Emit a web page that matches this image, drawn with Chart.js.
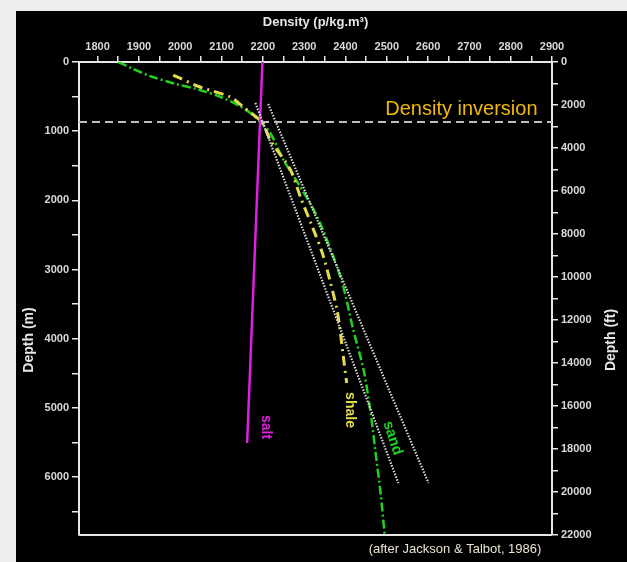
<!DOCTYPE html>
<html>
<head>
<meta charset="utf-8">
<script src="https://cdn.jsdelivr.net/npm/chart.js@4.4.0/dist/chart.umd.min.js"></script>
<style>
  html, body { margin: 0; padding: 0; background: #eeeeee; }
  #wrap { width: 627px; height: 562px; position: relative; }
</style>
</head>
<body>
<div id="wrap"><canvas id="densityChart"></canvas></div>
<script>
// values: density (kg/m3) against depth (m)
const sandDensity = [1850, 1886, 1930, 1985, 2045, 2100, 2145, 2175, 2194, 2218, 2250, 2291, 2332, 2371, 2395, 2419, 2444, 2461, 2473, 2485, 2495];
const sandDepth   = [0, 100, 210, 310, 400, 510, 640, 760, 867, 1026, 1416, 1806, 2240, 2818, 3251, 3873, 4451, 5072, 5650, 6228, 6835];

const shaleDensity = [1983, 2048, 2121, 2153, 2187, 2199, 2218, 2267, 2291, 2320, 2344, 2364, 2381, 2395, 2403];
const shaleDepth   = [188, 361, 506, 650, 809, 867, 1127, 1561, 1951, 2384, 2760, 3194, 3627, 4263, 4639];

const saltDensity = [2199, 2162];
const saltDepth   = [0, 5506];

const trendADensity = [2182, 2528];
const trendADepth   = [592, 6084];
const trendBDensity = [2213, 2601];
const trendBDepth   = [607, 6084];

const inversionDepth = 867;
const densityRange = [1755, 2900];
const depthRangeM = [0, 6835];
const depthRangeFt = [0, 22000];

// tick marks every 500 m, labels every 1000 m
const depthTicksM = [0, 500, 1000, 1500, 2000, 2500, 3000, 3500, 4000, 4500, 5000, 5500, 6000, 6500];

function toPoints(xs, ys) {
  return xs.map((x, i) => ({ x: x, y: ys[i] }));
}

// label only every n-th unit, keep the minor tick marks empty
function everyNth(n) {
  return function (value) {
    const v = Math.round(Number(value));
    return v % n === 0 ? String(v) : '';
  };
}

const FONT = 'Liberation Sans, Arial, sans-serif';
const tickFont = { family: FONT, size: 11, weight: 'bold' };

const textPlugin = {
  id: 'textPlugin',
  beforeDraw(chart) {
    const ctx = chart.ctx;
    ctx.save();
    ctx.fillStyle = '#eeeeee';
    ctx.fillRect(0, 0, chart.width, chart.height);
    ctx.fillStyle = '#000000';
    ctx.fillRect(16, 11, chart.width - 16, chart.height - 11);
    ctx.restore();
  },
  afterDraw(chart) {
    const ctx = chart.ctx;
    const area = chart.chartArea;
    const xs = chart.scales.x;
    const ys = chart.scales.y;
    ctx.save();

    // bottom frame line
    ctx.strokeStyle = '#e6e6e6';
    ctx.lineWidth = 2;
    ctx.beginPath();
    ctx.moveTo(area.left, area.bottom);
    ctx.lineTo(area.right, area.bottom);
    ctx.stroke();

    ctx.fillStyle = '#e6e6e6';
    ctx.textAlign = 'center';
    ctx.textBaseline = 'middle';
    ctx.font = 'bold 13px ' + FONT;
    ctx.fillText('Density (p/kg.m\u00b3)', (area.left + area.right) / 2, 22);

    ctx.font = 'bold 14px ' + FONT;
    ctx.save();
    ctx.translate(29, 340);
    ctx.rotate(-Math.PI / 2);
    ctx.fillText('Depth (m)', 0, 0);
    ctx.restore();
    ctx.save();
    ctx.translate(611, 340);
    ctx.rotate(-Math.PI / 2);
    ctx.fillText('Depth (ft)', 0, 0);
    ctx.restore();

    // annotations
    ctx.font = '20px ' + FONT;
    ctx.fillStyle = '#f2b705';
    ctx.textAlign = 'right';
    ctx.textBaseline = 'alphabetic';
    ctx.fillText('Density inversion', xs.getPixelForValue(2865), ys.getPixelForValue(766));

    const rotLabel = (txt, d, m, color, size, angle) => {
      ctx.save();
      ctx.translate(xs.getPixelForValue(d), ys.getPixelForValue(m));
      ctx.rotate(angle);
      ctx.font = 'bold ' + size + 'px ' + FONT;
      ctx.fillStyle = color;
      ctx.textAlign = 'center';
      ctx.textBaseline = 'middle';
      ctx.fillText(txt, 0, 0);
      ctx.restore();
    };
    rotLabel('salt', 2208, 5275, '#e020e0', 14, Math.PI / 2);
    rotLabel('shale', 2410, 5029, '#e4dc50', 14, Math.PI / 2);
    rotLabel('sand', 2514, 5434, '#22d022', 15, Math.PI * 0.4);

    ctx.font = '13px ' + FONT;
    ctx.fillStyle = '#e8e4d0';
    ctx.textAlign = 'center';
    ctx.textBaseline = 'middle';
    ctx.fillText('(after Jackson & Talbot, 1986)', 455, 549);
    ctx.restore();
  }
};

const ctx = document.getElementById('densityChart').getContext('2d');
const chart = new Chart(ctx, {
  type: 'scatter',
  data: {
    datasets: [
      {
        label: 'inversion',
        data: [{ x: densityRange[0], y: inversionDepth }, { x: densityRange[1], y: inversionDepth }],
        showLine: true, borderColor: '#bdbdbd', borderWidth: 2, borderDash: [8, 5], pointRadius: 0
      },
      {
        label: 'trend A',
        data: toPoints(trendADensity, trendADepth),
        showLine: true, borderColor: '#dadada', borderWidth: 2.2, borderDash: [1.5, 1.5], pointRadius: 0
      },
      {
        label: 'trend B',
        data: toPoints(trendBDensity, trendBDepth),
        showLine: true, borderColor: '#dadada', borderWidth: 2.2, borderDash: [1.5, 1.5], pointRadius: 0
      },
      {
        label: 'salt',
        data: toPoints(saltDensity, saltDepth),
        showLine: true, borderColor: '#e020e0', borderWidth: 2.5, pointRadius: 0
      },
      {
        label: 'shale',
        data: toPoints(shaleDensity, shaleDepth),
        showLine: true, borderColor: '#e4dc50', borderWidth: 3, borderDash: [10, 5, 2, 5], pointRadius: 0, tension: 0.3
      },
      {
        label: 'sand',
        data: toPoints(sandDensity, sandDepth),
        showLine: true, borderColor: '#22d022', borderWidth: 2.5, borderDash: [9, 3, 2, 3], pointRadius: 0, tension: 0.3
      }
    ]
  },
  options: {
    responsive: true,
    maintainAspectRatio: false,
    animation: false,
    layout: { padding: { left: 16, top: 11, right: 0, bottom: 27 } },
    plugins: {
      legend: { display: false },
      tooltip: { enabled: false }
    },
    scales: {
      x: {
        type: 'linear',
        position: 'top',
        min: densityRange[0],
        max: densityRange[1],
        afterFit: (s) => { s.height = 51; },
        border: { color: '#e6e6e6', width: 2 },
        grid: { drawOnChartArea: false, color: '#e6e6e6', lineWidth: 1.5, tickLength: 6 },
        ticks: {
          stepSize: 50, includeBounds: false, autoSkip: false, maxRotation: 0,
          color: '#d8d8d8', font: tickFont, padding: 2,
          callback: everyNth(100)
        }
      },
      y: {
        type: 'linear',
        position: 'left',
        reverse: true,
        min: depthRangeM[0],
        max: depthRangeM[1],
        afterBuildTicks: (s) => { s.ticks = depthTicksM.map((v) => ({ value: v })); },
        afterFit: (s) => { s.width = 63; },
        border: { color: '#e6e6e6', width: 2 },
        grid: { drawOnChartArea: false, color: '#e6e6e6', lineWidth: 1.5, tickLength: 7 },
        ticks: {
          autoSkip: false,
          color: '#d8d8d8', font: tickFont, padding: 3,
          callback: everyNth(1000)
        }
      },
      y2: {
        type: 'linear',
        position: 'right',
        reverse: true,
        min: depthRangeFt[0],
        max: depthRangeFt[1],
        afterFit: (s) => { s.width = 75; },
        border: { color: '#e6e6e6', width: 2 },
        grid: { drawOnChartArea: false, color: '#e6e6e6', lineWidth: 1.5, tickLength: 6 },
        ticks: {
          stepSize: 1000, includeBounds: false, autoSkip: false,
          color: '#d8d8d8', font: tickFont, padding: 3,
          callback: everyNth(2000)
        }
      }
    }
  },
  plugins: [textPlugin]
});
</script>
</body>
</html>
